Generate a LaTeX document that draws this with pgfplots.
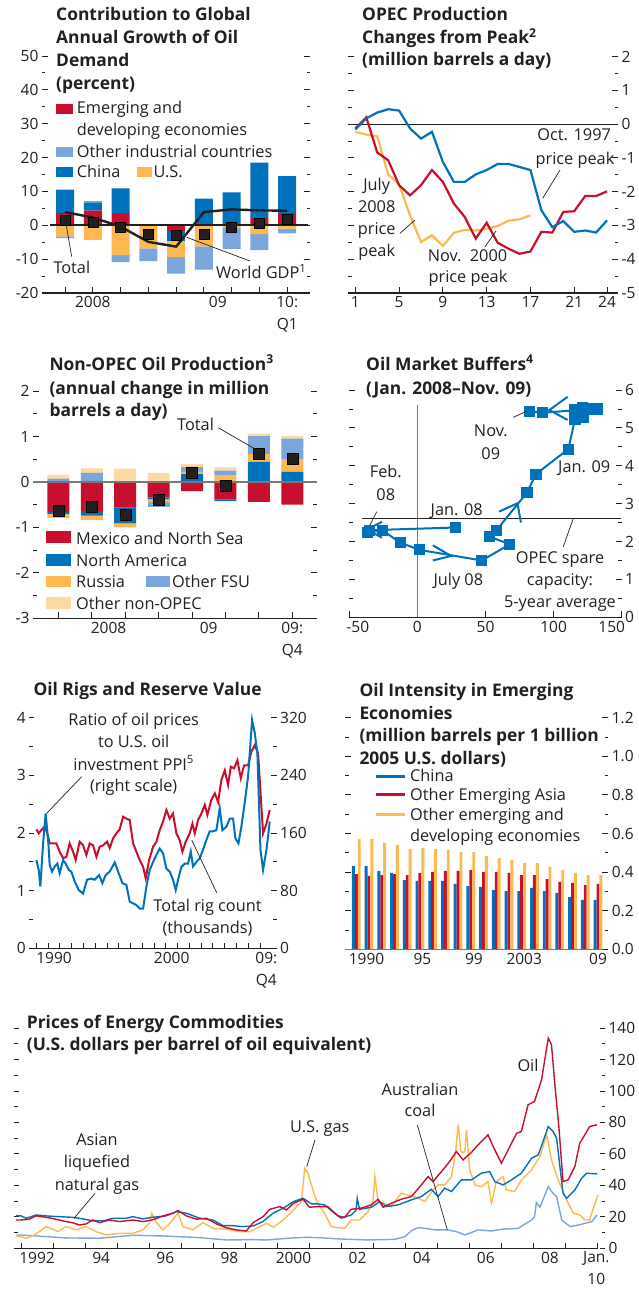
\documentclass[border=0pt]{standalone}
\usepackage{pgfplots}
\usepackage{pgfplotstable}
\pgfplotsset{compat=1.18}
\usepackage{fontspec}
\setmainfont{Open Sans}
\definecolor{txt}{RGB}{35,31,32}
\definecolor{ired}{RGB}{200,16,46}
\definecolor{iblue}{RGB}{0,114,188}
\definecolor{ilblue}{RGB}{122,166,219}
\definecolor{iorange}{RGB}{253,185,79}
\definecolor{ipeach}{RGB}{253,217,163}
\definecolor{igray}{RGB}{120,120,120}
\newcommand\fB{\fontsize{16.3}{22}\selectfont}
\newcommand\fK{\fontsize{15.5}{22}\selectfont}
\newcommand\fT{\fontsize{17.4}{23}\selectfont\bfseries}
\newcommand\Tt[3]{\node[anchor=base west,inner sep=0pt,font=\fT,text=txt] at (#1,#2) {#3};}
\newcommand\Tl[3]{\node[anchor=base west,inner sep=0pt,font=\fB,text=txt] at (#1,#2) {#3};}
\newcommand\Tc[3]{\node[anchor=base,inner sep=0pt,font=\fB,text=txt] at (#1,#2) {#3};}
\newcommand\Ld[4]{\draw[txt,line width=0.7pt] (#1,#2) -- (#3,#4);}
\newcommand\Sw[5]{\fill[#5] (#1,#2) rectangle (#3,#4);}

\pgfplotsset{
  P/.style={scale only axis, clip=false, axis line style={draw=none},
    tick align=inside, major tick length=6pt, minor tick length=3.5pt,
    tick style={txt, line width=0.9pt},
    ticklabel style={font=\fK, text=txt},
    /pgf/number format/assume math mode=true,
    xtick pos=left, ytick pos=both},
  H/.style={scale only axis, clip=false, hide axis},
  g1/.style={at={(42pt,-293pt)}, anchor=south west, width=268pt, height=237pt, xmin=-0.83, xmax=8.82, ymin=-20, ymax=50},
  g2/.style={at={(348pt,-293pt)}, anchor=south west, width=270pt, height=236.5pt, xmin=0.33, xmax=25.0, ymin=-5, ymax=2},
  g3/.style={at={(33pt,-618.3pt)}, anchor=south west, width=284pt, height=227.3pt, xmin=-0.76, xmax=7.74, ymin=-3, ymax=2},
  g4/.style={at={(349.3pt,-617.3pt)}, anchor=south west, width=272.4pt, height=227.3pt, xmin=-50, xmax=150, ymin=0, ymax=6},
  g5/.style={at={(29.3pt,-948.3pt)}, anchor=south west, width=247.4pt, height=230.6pt, xmin=1988.4, xmax=2009.42},
  g6/.style={at={(345pt,-949.3pt)}, anchor=south west, width=263.3pt, height=231.6pt, xmin=1989.11, xmax=2009.81, ymin=0, ymax=1.2},
  g7/.style={at={(14pt,-1248.3pt)}, anchor=south west, width=591pt, height=220.3pt, xmin=1991.78, xmax=2010.22, ymin=0, ymax=140},
}

\pgfplotstableread{
i em ch oth
0 3.6 6.9 0
1 4.3 2.5 0.3
2 3.6 7.3 0
3 0 0 0
4 0 0 0
5 0 7.9 0
6 0 9.7 0
7 2.1 16.4 0
8 3.6 10.9 0
}\onePos
\pgfplotstableread{
i em ch us oth tot gdp
0 0 0 -3.3 -0.5 1.4 3.9
1 0 0 -4.3 0 0.9 2.3
2 0 0 -8.8 -2.1 -0.6 -0.4
3 0 0 -6.8 -3.8 -2.5 -4.9
4 -1.6 -2.9 -4.9 -4.9 -3.0 -6.3
5 0 0 -6.2 -6.9 -2.5 3.9
6 0 0 -0.8 -6.2 -0.5 4.7
7 0 0 -2.6 -4.7 0.7 4.4
8 0 0 -1.0 -1.4 1.7 4.3
}\oneNeg
\pgfplotstableread{
i na ru fsu oth
0 0 0 0.07 0.09
1 0 0 0.20 0.10
2 0 0 0 0.29
3 0 0 0 0.20
4 0.17 0.05 0.11 0.06
5 0 0.15 0.10 0.07
6 0.44 0.17 0.40 0.05
7 0.22 0.27 0.46 0.06
}\threePos
\pgfplotstableread{
i mx na ru fsu tot
0 -0.66 -0.04 -0.09 0 -0.64
1 -0.64 -0.10 -0.10 0 -0.55
2 -0.56 -0.35 -0.09 0 -0.73
3 -0.34 -0.04 -0.07 -0.10 -0.39
4 -0.20 0 0 0 0.20
5 -0.39 -0.03 0 0 -0.09
6 -0.44 0 0 0 0.62
7 -0.50 0 0 0 0.51
}\threeNeg
\pgfplotstableread{
yr ch oa oth
1990 0.432 0.390 0.572
1991 0.432 0.380 0.572
1992 0.406 0.385 0.551
1993 0.396 0.390 0.541
1994 0.359 0.385 0.520
1995 0.354 0.396 0.525
1996 0.354 0.401 0.520
1997 0.354 0.406 0.515
1998 0.339 0.406 0.504
1999 0.328 0.411 0.504
2000 0.323 0.401 0.484
2001 0.307 0.401 0.473
2002 0.302 0.396 0.463
2003 0.302 0.385 0.447
2004 0.318 0.385 0.447
2005 0.302 0.364 0.427
2006 0.292 0.349 0.411
2007 0.271 0.344 0.396
2008 0.256 0.333 0.385
2009 0.256 0.339 0.385
}\six

\begin{document}
\begin{tikzpicture}
\path[use as bounding box] (0,0) rectangle (638pt,-1291pt);

% ---------------- Panel 1
\begin{axis}[P, g1, ytick={-20,-10,...,50}, minor y tick num=1,
  xtick={0,...,8}, xticklabels={,2008,,,,,,,{10:\\Q1}},
  extra x ticks={5.5}, extra x tick labels={09},
  extra x tick style={major tick length=0pt, tick style={draw=none}},
  xticklabel style={align=center},
  ybar stacked, bar width=18pt]
\addplot[fill=ired, draw=none] table[x=i,y=em]{\onePos};
\addplot[fill=iblue, draw=none] table[x=i,y=ch]{\onePos};
\addplot[fill=ilblue, draw=none] table[x=i,y=oth]{\onePos};
\draw[txt, line width=1.5pt] (axis cs:-0.83,-20) -- (axis cs:8.82,-20);
\end{axis}
\begin{axis}[H, g1, ybar stacked, bar width=18pt]
\addplot[fill=ired, draw=none] table[x=i,y=em]{\oneNeg};
\addplot[fill=iblue, draw=none] table[x=i,y=ch]{\oneNeg};
\addplot[fill=iorange, draw=none] table[x=i,y=us]{\oneNeg};
\addplot[fill=ilblue, draw=none] table[x=i,y=oth]{\oneNeg};
\end{axis}
\begin{axis}[H, g1]
\draw[txt, line width=2.4pt] (axis cs:-0.55,0) -- (axis cs:8.75,0);
\addplot[txt, line width=2.4pt] table[x=i,y=gdp]{\oneNeg};
\addplot[only marks, mark=square*, mark size=5pt, mark options={fill=txt, draw=none}] table[x=i,y=tot]{\oneNeg};
\end{axis}

% ---------------- Panel 2
\begin{axis}[P, g2, ytick={-5,...,2}, minor y tick num=1, yticklabel pos=right,
  xtick={1,5,9,13,17,21,24}]
\draw[txt, line width=1.5pt] (axis cs:0.33,-5) -- (axis cs:25,-5);
\draw[txt, line width=0.9pt] (axis cs:0.55,0) -- (axis cs:25,0);
\addplot[iorange, line width=2.2pt] coordinates {(1,-0.23) (2,-0.31) (3,-0.36) (4,-1.49) (5,-1.79) (6,-2.70) (7,-3.49) (8,-3.29) (9,-3.61) (10,-3.22) (11,-3.13) (12,-3.15) (13,-3.10) (14,-3.02) (15,-2.86) (16,-2.82) (17,-2.70)};
\addplot[ired, line width=2.2pt] coordinates {(1,-0.13) (2,0.2) (3,-0.84) (4,-1.07) (5,-1.81) (6,-2.11) (7,-1.81) (8,-1.36) (9,-1.71) (10,-2.35) (11,-2.75) (12,-3.39) (13,-2.92) (14,-3.51) (15,-3.69) (16,-3.84) (17,-3.77) (18,-3.19) (19,-3.21) (20,-2.60) (21,-2.58) (22,-2.13) (23,-2.13) (24,-1.99)};
\addplot[iblue, line width=2.2pt] coordinates {(1,-0.16) (2,0.17) (3,0.34) (4,0.44) (5,0.40) (6,-0.13) (7,-0.43) (8,-0.23) (9,-1.12) (10,-1.71) (11,-1.71) (12,-1.49) (13,-1.36) (14,-1.18) (15,-1.18) (16,-1.27) (17,-1.36) (18,-2.55) (19,-3.05) (20,-2.87) (21,-3.19) (22,-3.15) (23,-3.21) (24,-2.85)};
\end{axis}

% ---------------- Panel 3
\begin{axis}[P, g3, ytick={-3,...,2}, minor y tick num=1,
  xtick={0,...,7}, xticklabels={,,,,,,,{09:\\Q4}},
  extra x ticks={1.5,4.5}, extra x tick labels={2008,09},
  extra x tick style={major tick length=0pt, tick style={draw=none}},
  xticklabel style={align=center},
  ybar stacked, bar width=22pt]
\addplot[fill=iblue, draw=none] table[x=i,y=na]{\threePos};
\addplot[fill=iorange, draw=none] table[x=i,y=ru]{\threePos};
\addplot[fill=ilblue, draw=none] table[x=i,y=fsu]{\threePos};
\addplot[fill=ipeach, draw=none] table[x=i,y=oth]{\threePos};
\draw[txt, line width=1.5pt] (axis cs:-0.76,-3) -- (axis cs:7.74,-3);
\end{axis}
\begin{axis}[H, g3, ybar stacked, bar width=22pt]
\addplot[fill=ired, draw=none] table[x=i,y=mx]{\threeNeg};
\addplot[fill=iblue, draw=none] table[x=i,y=na]{\threeNeg};
\addplot[fill=iorange, draw=none] table[x=i,y=ru]{\threeNeg};
\addplot[fill=ilblue, draw=none] table[x=i,y=fsu]{\threeNeg};
\end{axis}
\begin{axis}[H, g3]
\draw[igray, line width=1.4pt] (axis cs:-0.76,0) -- (axis cs:7.74,0);
\addplot[only marks, mark=square*, mark size=5.5pt, mark options={fill=txt, draw=none}] table[x=i,y=tot]{\threeNeg};
\end{axis}

% ---------------- Panel 4
\begin{axis}[P, g4, ytick={0,...,6}, minor y tick num=1, yticklabel pos=right,
  xtick={-50,0,50,100,150}, xticklabels={\hspace*{17pt}-50,0,50,100,150\hspace*{20pt}}]
\draw[txt, line width=1.5pt] (axis cs:-50,0) -- (axis cs:150,0);
\draw[igray, line width=1pt] (axis cs:0,0) -- (axis cs:0,5.6);
\draw[txt, line width=0.9pt] (axis cs:-40.4,2.61) -- (axis cs:149.5,2.61);
\addplot[iblue, line width=2pt, mark=square*, mark size=4.6pt, mark options={fill=iblue, draw=none}] coordinates {
(27.7,2.37) (-35.0,2.30) (-36.8,2.24) (-25.7,2.30) (-12.7,1.97) (1.5,1.78) (47.3,1.50) (67.9,1.93) (52.7,2.13) (58.1,2.30) (80.4,3.29) (87.0,3.78) (110.8,4.44) (115.7,5.22) (121.8,5.28) (115.2,5.47) (121.3,5.54) (127.5,5.50) (132.4,5.50) (125,5.50) (117.6,5.47) (91.9,5.40) (82.1,5.44)};
\draw[iblue, line width=2pt] (axis cs:-26,2.52) -- (axis cs:-37,2.32) -- (axis cs:-26,2.10);
\draw[iblue, line width=2pt] (axis cs:11.3,1.90) -- (axis cs:24.8,1.62) -- (axis cs:11.3,1.50);
\draw[iblue, line width=2pt] (axis cs:60,2.79) -- (axis cs:73.5,3.01) -- (axis cs:76,2.50);
\draw[iblue, line width=2pt] (axis cs:110.3,5.82) -- (axis cs:96.8,5.47) -- (axis cs:110.3,5.21);
\end{axis}

% ---------------- Panel 5
\begin{axis}[P, g5, ymin=0, ymax=320, ytick={0,80,...,320}, minor y tick num=1,
  ytick pos=right, yticklabel pos=right, xtick=\empty]
\addplot[ired, line width=2pt] coordinates {
(1989.0,165) (1989.2,159.5) (1989.42,164) (1989.71,169) (1989.93,159.5) (1990.13,145.6) (1990.42,145.6) (1990.7,145.6) (1990.98,134) (1991.27,125) (1991.55,127) (1991.83,145.6) (1992.12,134) (1992.34,122.5) (1992.68,148) (1992.97,143) (1993.25,129.5) (1993.53,145.6) (1993.82,143) (1994.1,127) (1994.38,141) (1994.67,143) (1995.01,148) (1995.23,139) (1995.52,152.6) (1995.8,159.5) (1996.08,165) (1996.37,182.6) (1996.65,180) (1996.93,178) (1997.22,145.6) (1997.5,134) (1997.78,122.5) (1998.07,113) (1998.29,97) (1998.58,122.5) (1998.92,141) (1999.2,148) (1999.48,164) (1999.76,175.7) (2000.05,192) (2000.33,180) (2000.61,187) (2000.9,159.5) (2001.18,150) (2001.41,134) (2001.69,148) (2002.03,159.5) (2002.26,173) (2002.46,159.5) (2002.74,178) (2003.02,187) (2003.31,199) (2003.53,185) (2003.87,206) (2004.16,215) (2004.44,203) (2004.72,233.5) (2005.01,247) (2005.29,226.6) (2005.52,252) (2005.8,249.7) (2006.08,261) (2006.37,236) (2006.65,254) (2006.99,254) (2007.27,273) (2007.56,282) (2007.84,270.5) (2008.07,210) (2008.26,159.5) (2008.55,173) (2008.83,192)};
\end{axis}
\begin{axis}[P, g5, ymin=0, ymax=4, ytick={0,...,4}, minor y tick num=1, ytick pos=left,
  xtick={1989,...,2008}, xticklabels={}, major tick length=5pt,
  extra x ticks={1990.5,2000.5,2008.54}, extra x tick labels={1990,2000,{09:\\Q4}},
  extra x tick style={major tick length=0pt, tick style={draw=none}},
  xticklabel style={align=center}]
\draw[txt, line width=1.5pt] (axis cs:1988.4,0) -- (axis cs:2009.0,0);
\addplot[iblue, line width=2pt] coordinates {
(1989.0,1.53) (1989.2,1.36) (1989.34,1.07) (1989.57,1.82) (1989.79,2.34) (1990.02,1.82) (1990.13,1.45) (1990.33,1.33) (1990.56,1.42) (1990.78,1.47) (1990.98,1.30) (1991.27,1.53) (1991.49,1.47) (1991.75,1.36) (1991.97,1.33) (1992.26,1.16) (1992.6,1.01) (1992.97,0.95) (1993.31,1.19) (1993.67,1.21) (1993.96,1.19) (1994.33,1.27) (1994.61,1.13) (1994.89,1.27) (1995.23,1.33) (1995.66,1.49) (1996.0,1.30) (1996.31,1.13) (1996.65,1.10) (1996.93,0.81) (1997.22,0.78) (1997.5,0.75) (1997.78,0.69) (1998.07,0.69) (1998.35,1.07) (1998.63,1.36) (1998.92,1.50) (1999.2,1.62) (1999.48,1.73) (1999.76,1.65) (2000.05,1.38) (2000.33,1.33) (2000.61,1.19) (2000.84,1.01) (2001.1,1.24) (2001.32,1.41) (2001.61,1.47) (2001.89,1.47) (2002.12,1.68) (2002.31,1.42) (2002.6,1.50) (2002.88,1.56) (2003.16,1.71) (2003.45,1.88) (2003.73,2.03) (2004.01,2.03) (2004.3,2.05) (2004.58,2.43) (2004.81,2.05) (2005.15,2.11) (2005.43,2.25) (2005.71,2.25) (2005.91,1.91) (2006.17,1.82) (2006.42,2.11) (2006.71,2.54) (2006.99,2.98) (2007.33,3.96) (2007.56,3.73) (2007.78,3.38) (2008.04,1.71) (2008.26,1.36) (2008.55,1.71) (2008.83,2.20)};
\end{axis}

% ---------------- Panel 6
\begin{axis}[P, g6, ytick={0,0.2,0.4,0.6,0.8,1.0,1.2}, yticklabels={0.0,0.2,0.4,0.6,0.8,1.0,1.2},
  minor y tick num=1, yticklabel pos=right,
  xtick={1990.8,1995.2,1999.25,2003.2,2009}, xticklabels={1990,95,99,2003,09},
  x tick style={draw=none}]
\addplot[ybar, bar width=2.9pt, bar shift=-2.9pt, fill=iblue, draw=none] table[x=yr,y=ch]{\six};
\addplot[ybar, bar width=2.9pt, bar shift=0pt, fill=ired, draw=none] table[x=yr,y=oa]{\six};
\addplot[ybar, bar width=2.9pt, bar shift=2.9pt, fill=iorange, draw=none] table[x=yr,y=oth]{\six};
\draw[igray, line width=1.5pt] (axis cs:1989.11,0) -- (axis cs:2009.42,0);
\end{axis}

% ---------------- Panel 7
\begin{axis}[P, g7, ytick={0,20,...,140}, minor y tick num=1, yticklabel pos=right,
  xtick={1992,...,2010}, xticklabels={}, major tick length=5pt,
  extra x ticks={1992.5,1994.5,1996.5,1998.5,2000.5,2002.5,2004.5,2006.5,2008.5,2009.95},
  extra x tick labels={1992,94,96,98,2000,02,04,06,08,{Jan.\\10}},
  extra x tick style={major tick length=0pt, tick style={draw=none}},
  xticklabel style={align=center}]
\draw[txt, line width=1.5pt] (axis cs:1991.78,0) -- (axis cs:2010.0,0);
\addplot[ilblue, line width=1.4pt] coordinates {
(1991.84,8.3) (1992.0,8.5) (1993.4,6.6) (1994.45,6.4) (1995.5,8.3) (1996.5,7.8) (1997.57,6.8) (1998.4,5.3) (1999.24,5.5) (1999.66,5.3) (2000.4,6.5) (2000.9,7.0) (2001.26,6.8) (2001.99,5.9) (2002.82,5.3) (2003.66,5.7) (2003.97,7.4) (2004.2,11.5) (2004.39,13.1) (2004.6,12.7) (2004.91,11.7) (2005.32,11.7) (2005.6,10.5) (2005.85,8.5) (2006.26,11.7) (2006.68,11.0) (2006.99,12.1) (2007.51,12.7) (2007.93,18.0) (2008.02,20) (2008.08,29.1) (2008.19,26.1) (2008.45,39.2) (2008.6,35) (2008.71,32.9) (2008.87,18.0) (2009.13,13.8) (2009.39,14.8) (2009.6,15.9) (2009.81,17.0) (2009.97,21.2)};
\addplot[iorange, line width=1.4pt] coordinates {
(1991.84,8.0) (1992.0,7.4) (1992.16,6.4) (1992.35,7.8) (1992.6,11) (1992.78,13.8) (1992.95,12.5) (1993.15,10.6) (1993.4,13.8) (1993.72,11.7) (1994.03,13.8) (1994.34,10.6) (1994.66,8.5) (1995.07,9.5) (1995.49,9.5) (1995.8,11.7) (1996.0,15.9) (1996.08,22.3) (1996.2,17.0) (1996.43,11.7) (1996.64,15.9) (1996.9,22.3) (1997.05,13.8) (1997.36,11.7) (1997.68,16.3) (1997.99,12.7) (1998.4,12.1) (1998.82,10.6) (1999.14,10.6) (1999.45,13.8) (1999.66,15.9) (1999.87,13.4) (2000.18,18.0) (2000.5,24.4) (2000.75,29.7) (2000.85,50.9) (2000.95,47.7) (2001.17,32.9) (2001.26,28.6) (2001.47,22.3) (2001.68,13.8) (2001.89,13.1) (2002.1,12.7) (2002.3,18.0) (2002.56,18.0) (2002.83,23.3) (2002.98,30) (2003.04,45.6) (2003.14,29.7) (2003.35,28.6) (2003.55,26.5) (2003.86,35.0) (2004.07,33.9) (2004.39,31.8) (2004.6,29.7) (2004.85,37.1) (2005.01,40.3) (2005.22,40.3) (2005.43,45.6) (2005.55,60) (2005.64,78.5) (2005.72,62) (2005.79,60.4) (2005.85,62) (2005.9,75.3) (2006.0,49.8) (2006.16,40.3) (2006.36,39.2) (2006.57,42.4) (2006.68,28.6) (2006.83,42.4) (2007.04,45.6) (2007.14,37.1) (2007.40,36.1) (2007.61,43.5) (2007.93,49.8) (2008.19,58.3) (2008.4,72.1) (2008.55,56.2) (2008.76,43.5) (2009.02,30.8) (2009.23,22.3) (2009.43,21.2) (2009.59,18.0) (2009.74,18.0) (2009.84,24.4) (2010.0,33.9)};
\addplot[iblue, line width=1.4pt] coordinates {
(1991.84,20.8) (1992.0,20.6) (1992.16,19.1) (1992.47,21.2) (1992.78,20.6) (1993.2,20.1) (1993.6,19.7) (1993.93,18.7) (1994.24,17.4) (1994.6,17.6) (1994.86,19.1) (1995.28,19.1) (1995.49,20.1) (1995.8,18.7) (1996.1,19.7) (1996.53,20.6) (1996.84,23.3) (1997.16,22.3) (1997.57,19.1) (1997.99,18.0) (1998.3,14.4) (1998.6,14.4) (1998.9,13.8) (1999.24,14.2) (1999.55,17.0) (1999.86,22.3) (2000.18,25.5) (2000.5,29.7) (2000.8,31.8) (2001.06,28.2) (2001.26,28.2) (2001.47,27.6) (2001.78,22.3) (2001.99,19.1) (2002.3,21.2) (2002.45,24) (2002.49,31.8) (2002.56,24.8) (2002.93,26.1) (2003.19,29.7) (2003.40,26.5) (2003.76,27.6) (2004.18,30.8) (2004.49,32.9) (2004.80,37.5) (2005.01,32.9) (2005.22,38.2) (2005.43,36.1) (2005.74,43.5) (2006.05,43.5) (2006.36,47.7) (2006.62,48.8) (2006.78,42.4) (2007.04,40.3) (2007.30,43.5) (2007.61,47.7) (2007.93,57.3) (2008.14,59.4) (2008.45,77.4) (2008.6,74.2) (2008.71,70.0) (2008.91,35.0) (2009.02,31.8) (2009.28,37.1) (2009.49,44.5) (2009.65,47.7) (2009.97,47.3)};
\addplot[ired, line width=1.4pt] coordinates {
(1991.84,18.0) (1992.0,18.0) (1992.25,18.5) (1992.47,20.6) (1992.78,19.7) (1993.04,18.7) (1993.4,17.0) (1993.6,16.3) (1993.82,14.8) (1994.03,15.5) (1994.24,18.0) (1994.45,16.3) (1994.76,18.0) (1995.07,17.0) (1995.49,18.0) (1995.8,17.0) (1996.1,18.0) (1996.43,20.6) (1996.74,22.3) (1996.9,24.0) (1997.16,20.6) (1997.47,18.5) (1997.78,19.1) (1998.1,15.5) (1998.4,13.1) (1998.72,11.7) (1999.03,11.0) (1999.24,16.3) (1999.55,20.1) (1999.76,24.8) (2000.07,26.5) (2000.28,24.4) (2000.5,28.6) (2000.8,31.2) (2001.0,26.1) (2001.26,26.5) (2001.57,26.5) (2001.89,20.6) (2002.1,19.7) (2002.3,24.8) (2002.6,25.5) (2002.93,27.6) (2003.14,31.2) (2003.30,26.1) (2003.55,28.6) (2003.86,31.2) (2004.18,32.9) (2004.49,40.3) (2004.7,45.6) (2004.85,42.4) (2005.16,49.8) (2005.37,55.1) (2005.58,61.5) (2005.79,56.2) (2006.05,60.9) (2006.36,67.9) (2006.57,72.1) (2006.73,64.7) (2006.99,54.1) (2007.25,64.7) (2007.46,73.1) (2007.61,74.2) (2007.82,91.2) (2008.02,93.3) (2008.24,107.1) (2008.45,133.6) (2008.55,129.4) (2008.66,102.9) (2008.78,77.4) (2008.91,42.4) (2009.07,43.5) (2009.28,52.0) (2009.43,66.8) (2009.59,72.1) (2009.74,77.4) (2009.97,78.5)};
\end{axis}

% ---------------- Text, legends, leaders (pixel coordinates)
\begin{scope}[x=1pt,y=-1pt]
% P1
\Tt{56}{20}{Contribution to Global}
\Tt{56}{43}{Annual Growth of Oil}
\Tt{56}{66}{Demand}
\Tt{56}{89}{(percent)}
\Sw{56}{104}{72.7}{113.5}{ired}
\Sw{56}{147}{72.7}{156.5}{ilblue}
\Sw{56}{167}{72.7}{176.5}{iblue}
\Sw{136.7}{167}{151.7}{176.5}{iorange}
\Tl{76.7}{113.5}{Emerging and}
\Tl{76.7}{135.5}{developing economies}
\Tl{76.7}{157}{Other industrial countries}
\Tl{76.7}{177.5}{China}
\Tl{153.3}{177.5}{U.S.}
\Tl{53.3}{273.3}{Total}
\Tl{216}{278.3}{World GDP\textsuperscript{1}}
\Ld{65.7}{221.7}{71.7}{256.7}
\Ld{186.7}{237.3}{250}{261}
% P2
\Tt{362}{20.7}{OPEC Production}
\Tt{362}{43.3}{Changes from Peak\textsuperscript{2}}
\Tt{362}{65.7}{(million barrels a day)}
\Tc{574.2}{140.7}{Oct. 1997}
\Tc{575}{164}{price peak}
\Tc{376.7}{190}{July}
\Tc{376.7}{212.3}{2008}
\Tc{376.7}{234}{price}
\Tc{376.7}{256}{peak}
\Tc{467.5}{261.7}{Nov.\ \ 2000}
\Tc{468}{282.7}{price peak}
\Ld{560}{170}{542.7}{198.3}
\Ld{400}{233.3}{415}{220}
\Ld{485}{246.7}{496}{231}
% P3
\Tt{49.3}{370}{Non-OPEC Oil Production\textsuperscript{3}}
\Tt{49.3}{394.3}{(annual change in million}
\Tt{49.3}{416.5}{barrels a day)}
\Sw{45.7}{531}{70.7}{542.7}{ired}
\Sw{45.7}{554}{70.7}{565.7}{iblue}
\Sw{45.7}{575.7}{70.7}{587.3}{iorange}
\Sw{145.7}{575.7}{170}{587.3}{ilblue}
\Sw{45.7}{597.3}{70.7}{609}{ipeach}
\Tl{76}{544.3}{Mexico and North Sea}
\Tl{76}{566}{North America}
\Tl{76}{587.3}{Russia}
\Tl{172}{587.3}{Other FSU}
\Tl{76}{609.3}{Other non-OPEC}
\Tl{177}{430.7}{Total}
\Ld{218.3}{427.7}{256.7}{450}
% P4
\Tt{366}{370}{Oil Market Buffers\textsuperscript{4}}
\Tt{366}{394}{(Jan. 2008--Nov. 09)}
\Tc{385.8}{477.3}{Feb.}
\Tc{385.8}{500}{08}
\Tc{456.7}{515}{Jan. 08}
\Tc{458.3}{585}{July 08}
\Tc{560}{563.3}{OPEC spare}
\Tc{560}{585}{capacity:}
\Tc{560}{607.3}{5-year average}
\Tc{490.8}{436}{Nov.}
\Tc{490.8}{459.3}{09}
\Tc{584.2}{472.7}{Jan. 09}
\Ld{376.7}{511.7}{370}{525}
\Ld{573.3}{518.3}{563.3}{546.7}
\Ld{513.3}{417.3}{527.3}{411}
% P5
\Tt{33.3}{695}{Oil Rigs and Reserve Value}
\Tc{133.7}{725}{Ratio of oil prices}
\Tc{133.7}{747.7}{to U.S. oil}
\Tc{133.7}{770}{investment PPI\textsuperscript{5}}
\Tc{133.7}{791.7}{(right scale)}
\Tc{207.5}{911.7}{Total rig count}
\Tc{207.5}{933.3}{(thousands)}
\Ld{81.7}{776.7}{46.7}{813.3}
\Ld{216.7}{892.7}{191.7}{840}
% P6
\Tt{359.3}{696.7}{Oil Intensity in Emerging}
\Tt{359.3}{719}{Economies}
\Tt{359.3}{741.7}{(million barrels per 1 billion}
\Tt{359.3}{764.3}{2005 U.S. dollars)}
\draw[iblue, line width=3pt] (376,776) -- (405,776);
\draw[ired, line width=3pt] (376,794.3) -- (405,794.3);
\draw[iorange, line width=3pt] (376,814.3) -- (405,814.3);
\Tl{410}{781.7}{China}
\Tl{410}{800}{Other Emerging Asia}
\Tl{410}{820}{Other emerging and}
\Tl{410}{841.7}{developing economies}
% P7
\Tt{26.7}{1028.3}{Prices of Energy Commodities}
\Tt{26.7}{1050.7}{(U.S. dollars per barrel of oil equivalent)}
\Tc{97}{1145.7}{Asian}
\Tc{97}{1167.7}{liquefied}
\Tc{97}{1190}{natural gas}
\Tc{319.8}{1132.3}{U.S. gas}
\Tc{420}{1095}{Australian}
\Tc{420}{1116.7}{coal}
\Tc{528}{1071.7}{Oil}
\Ld{95}{1193.3}{74}{1218.3}
\Ld{315}{1140}{306.7}{1166.7}
\Ld{417.3}{1125}{447.3}{1230}
\end{scope}
\end{tikzpicture}
\end{document}
